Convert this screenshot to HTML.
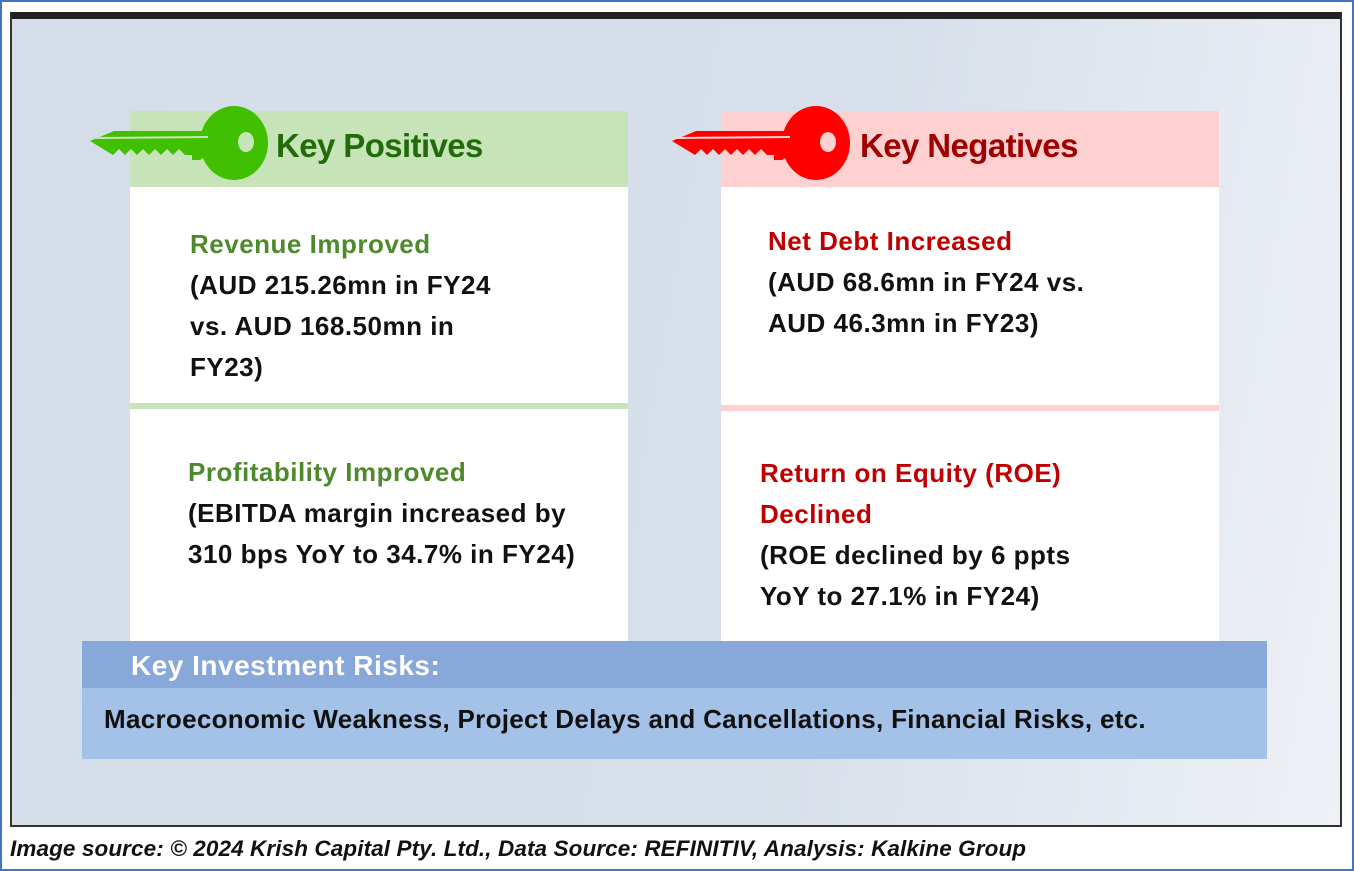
<!DOCTYPE html>
<html><head><meta charset="utf-8"><style>
*{margin:0;padding:0;box-sizing:border-box}
body{width:1354px;height:871px;background:#fff;position:relative;overflow:hidden;font-family:"Liberation Sans",sans-serif;font-weight:bold}
.abs{position:absolute}
.t{position:absolute;font-size:26px;line-height:41px;color:#111;letter-spacing:0.5px;white-space:nowrap}
</style></head><body>
<div class="abs" style="left:0;top:0;width:1354px;height:871px;border:2px solid #4472c4"></div>
<div class="abs" style="left:10px;top:12px;width:1332px;height:815px;border:2px solid #333;border-top:7px solid #222;background:linear-gradient(100deg,#d5dde9 0%,#d7dfea 60%,#eef1f6 100%)"></div>

<div class="abs" style="left:130px;top:111px;width:498px;height:76px;background:#c6e4b8"></div>
<div class="abs" style="left:130px;top:187px;width:498px;height:454px;background:#fff"></div>
<div class="abs" style="left:130px;top:403px;width:498px;height:6px;background:#c6e4b8"></div>

<div class="abs" style="left:721px;top:111px;width:498px;height:76px;background:#ffd0d0"></div>
<div class="abs" style="left:721px;top:187px;width:498px;height:454px;background:#fff"></div>
<div class="abs" style="left:721px;top:405px;width:498px;height:6px;background:#ffd0d0"></div>

<svg class="abs" style="left:88px;top:105px" width="182" height="80" viewBox="0 0 182 80">
<ellipse cx="146" cy="38" rx="34" ry="37" fill="#40c000"/>
<ellipse cx="158" cy="37" rx="8" ry="10" fill="#c6e4b8"/>
<path d="M26 26 L120 26 L120 50 L112 55 L104 55 L104 50 L97 50 L91 44 L85 50 L79 44 L73 50 L67 44 L61 50 L55 44 L49 50 L43 44 L37 50 L31 44 L25 50 L2 36 Z" fill="#40c000"/>
<line x1="4" y1="33" x2="120" y2="32" stroke="#c6e4b8" stroke-width="2"/>
</svg>
<div class="abs" style="left:276px;top:127px;font-size:33px;color:#236b0a;letter-spacing:-0.6px">Key Positives</div>

<svg class="abs" style="left:670px;top:105px" width="182" height="80" viewBox="0 0 182 80">
<ellipse cx="146" cy="38" rx="34" ry="37" fill="#ff0000"/>
<ellipse cx="158" cy="37" rx="8" ry="10" fill="#ffd0d0"/>
<path d="M26 26 L120 26 L120 50 L112 55 L104 55 L104 50 L97 50 L91 44 L85 50 L79 44 L73 50 L67 44 L61 50 L55 44 L49 50 L43 44 L37 50 L31 44 L25 50 L2 36 Z" fill="#ff0000"/>
<line x1="4" y1="33" x2="120" y2="32" stroke="#ffd0d0" stroke-width="2"/>
</svg>
<div class="abs" style="left:860px;top:127px;font-size:33px;color:#a00000;letter-spacing:-0.6px">Key Negatives</div>

<div class="t" style="left:190px;top:224px"><span style="color:#4e8a2c">Revenue Improved</span><br>(AUD 215.26mn in FY24<br>vs. AUD 168.50mn in<br>FY23)</div>
<div class="t" style="left:188px;top:452px"><span style="color:#4e8a2c">Profitability Improved</span><br>(EBITDA margin increased by<br>310 bps YoY to 34.7% in FY24)</div>
<div class="t" style="left:768px;top:221px"><span style="color:#c00000">Net Debt Increased</span><br>(AUD 68.6mn in FY24 vs.<br>AUD 46.3mn in FY23)</div>
<div class="t" style="left:760px;top:453px"><span style="color:#c00000">Return on Equity (ROE)<br>Declined</span><br>(ROE declined by 6 ppts<br>YoY to 27.1% in FY24)</div>

<div class="abs" style="left:82px;top:641px;width:1185px;height:47px;background:#87a8d8"></div>
<div class="abs" style="left:82px;top:688px;width:1185px;height:71px;background:#a4c2e8"></div>
<div class="abs" style="left:131px;top:650px;font-size:28px;color:#fff;letter-spacing:0.5px">Key Investment Risks:</div>
<div class="abs" style="left:104px;top:704px;font-size:26px;color:#111;letter-spacing:0.3px;white-space:nowrap">Macroeconomic Weakness, Project Delays and Cancellations, Financial Risks, etc.</div>

<div class="abs" style="left:10px;top:836px;font-size:22.5px;font-style:italic;color:#111;letter-spacing:0.1px;white-space:nowrap">Image source: © 2024 Krish Capital Pty. Ltd., Data Source: REFINITIV, Analysis: Kalkine Group</div>
</body></html>
